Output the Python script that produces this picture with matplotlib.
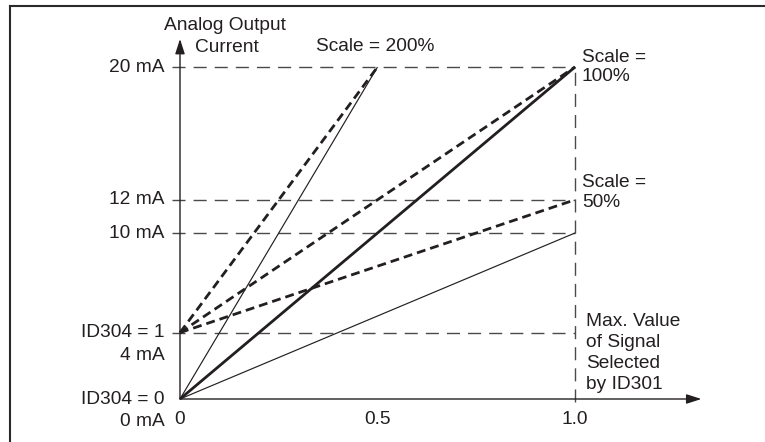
"""Analog output current vs. signal value for different scale settings (ID304 offset)."""

import matplotlib

matplotlib.use("Agg")

import matplotlib.pyplot as plt

# signal value (fraction of max) and current (mA) at each end of every scale line
SIGNAL_0MA = [[0.0, 0.5], [0.0, 1.0], [0.0, 1.0]]
CURRENT_0MA = [[0, 20], [0, 20], [0, 10]]
WIDTH_0MA = [0.85, 2.0, 0.85]  # 200 % thin, 100 % thick, 50 % thin

SIGNAL_4MA = [[0.0, 0.5], [0.0, 1.0], [0.0, 1.0]]
CURRENT_4MA = [[4, 20], [4, 20], [4, 12]]

GUIDE_LEVELS = [4, 10, 12, 20]
Y_LABELS = {20: ["20 mA"], 12: ["12 mA"], 10: ["10 mA"],
            4: ["ID304 = 1", "4 mA"], 0: ["ID304 = 0", "0 mA"]}
X_TICKS = [0, 0.5, 1.0]
X_TICK_LABELS = ["0", "0.5", "1.0"]
SIGNAL_MAX = 1.0

INK = "#231f20"
AXIS = "#4a4a4a"
FS = 13.8

plt.rcParams["font.family"] = ["Liberation Sans", "DejaVu Sans"]

W, H = 765, 442
fig = plt.figure(figsize=(W / 100, H / 100), dpi=100)
# axes box from the left frame line (x=10px) to the right edge, top frame line (y=6px) to bottom
ax = fig.add_axes([10 / W, 0, 1 - 10 / W, 1 - 6 / H])

# pixel geometry of the schematic: signal 0 -> 180px, 1 -> 575px; 0 mA -> 399px, 20 mA -> 67px
px_per_x = 395.0
px_per_mA = (399 - 67) / 20.0
ax.set_xlim((10 - 180) / px_per_x, (W - 180) / px_per_x)
ax.set_ylim((399 - H) / px_per_mA, (399 - 6) / px_per_mA)

for side in ("right", "bottom"):
    ax.spines[side].set_visible(False)
for side in ("top", "left"):
    ax.spines[side].set_linewidth(1.5)
    ax.spines[side].set_color("#2a2a2a")
ax.set_xticks([])
ax.set_yticks([])

# dashed guides
guide_style = dict(color=AXIS, lw=1.0, linestyle=(0, (9.4, 5.8)), zorder=1)
for level in GUIDE_LEVELS:
    ax.plot([-0.02, SIGNAL_MAX], [level, level], **guide_style)
ax.plot([SIGNAL_MAX, SIGNAL_MAX], [-0.2, max(GUIDE_LEVELS)], **guide_style)

# axes with arrows
arrow = dict(arrowstyle="-|>,head_length=0.9,head_width=0.29", color=INK, lw=1.0,
             shrinkA=0, shrinkB=0, mutation_scale=10)
ax.annotate("", xy=(1.32, 0), xytext=(0, 0), arrowprops=arrow, zorder=3)
ax.annotate("", xy=(0, 21.69), xytext=(0, 0), arrowprops=arrow, zorder=3)

# scale lines, 0 mA offset (solid)
for xs, ys, lw in zip(SIGNAL_0MA, CURRENT_0MA, WIDTH_0MA):
    ax.plot(xs, ys, color=INK, lw=lw, solid_capstyle="butt", zorder=2)
# scale lines, 4 mA offset (dashed)
for xs, ys in zip(SIGNAL_4MA, CURRENT_4MA):
    ax.plot(xs, ys, color=INK, lw=2.0, linestyle=(0, (3.2, 1.8)), zorder=2)

# y labels
for level, lines in Y_LABELS.items():
    for i, line in enumerate(lines):
        ax.annotate(line, xy=(0, level), xytext=(-11, -16.5 * i), textcoords="offset points",
                    ha="right", va="center", fontsize=FS, color=INK)

# x labels
for xv, lab in zip(X_TICKS, X_TICK_LABELS):
    ax.annotate(lab, xy=(xv, 0), xytext=(0, -14.5), textcoords="offset points",
                ha="center", va="center", fontsize=FS, color=INK)

# annotations
ax.annotate("Analog Output", xy=(0, 21.69), xytext=(32, 10), textcoords="offset points",
            ha="center", va="center", fontsize=FS, color=INK)
ax.annotate("Current", xy=(0, 21.69), xytext=(11, -6), textcoords="offset points",
            ha="left", va="center", fontsize=FS, color=INK)
ax.annotate("Scale = 200%", xy=(0.5, 20), xytext=(-2, 15), textcoords="offset points",
            ha="center", va="center", fontsize=FS, color=INK)
ax.annotate("Scale =\n100%", xy=(SIGNAL_MAX, 20), xytext=(5, 0), textcoords="offset points",
            ha="left", va="center", fontsize=FS, color=INK, linespacing=1.16)
ax.annotate("Scale =\n50%", xy=(SIGNAL_MAX, 12), xytext=(5, 5), textcoords="offset points",
            ha="left", va="center", fontsize=FS, color=INK, linespacing=1.22)
ax.annotate("Max. Value\nof Signal\nSelected\nby ID301", xy=(SIGNAL_MAX, 0),
            xytext=(8, 33), textcoords="offset points",
            ha="left", va="center", fontsize=FS, color=INK, linespacing=1.3)

fig.savefig("out.png", dpi=100)
